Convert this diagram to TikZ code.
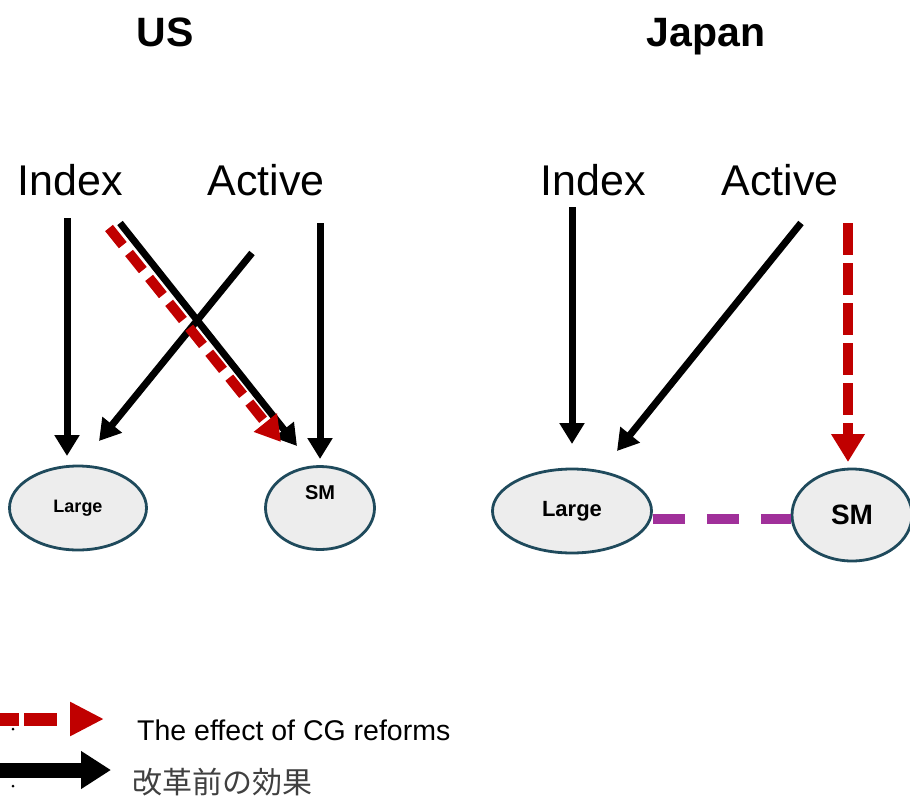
\documentclass[tikz,border=0pt]{standalone}
\usepackage{fontspec}
\setmainfont{Liberation Sans}
\newfontfamily\cjk{Noto Sans CJK JP}
\usetikzlibrary{arrows.meta,shapes.geometric}
\definecolor{edgeteal}{HTML}{1F4A5C}
\definecolor{effred}{HTML}{C00000}
\definecolor{linkpurple}{HTML}{A0309A}
\definecolor{fillgrey}{HTML}{EDEDED}
\tikzset{
  title/.style={font=\fontsize{41}{41}\selectfont\bfseries, inner sep=0pt, anchor=base},
  actor/.style={font=\fontsize{43}{43}\selectfont, inner sep=0pt},
  firm/.style={ellipse, draw=edgeteal, line width=2.8pt, fill=fillgrey, inner sep=0pt, font=\bfseries},
  blackarr/.style={line width=7pt, -{Triangle[width=24pt,length=21pt]}},
  redarr/.style={draw=effred, line width=10pt, dash pattern=on 24pt off 9pt, -{Triangle[width=32pt,length=28pt]}, effred},
  purplelink/.style={draw=linkpurple, line width=10pt, dash pattern=on 32pt off 22pt},
}
\begin{document}
\begin{tikzpicture}[x=1pt,y=-1pt]
\useasboundingbox (0,0) rectangle (910,798);
% titles
\node[title] (usT) at (165,46) {US};
\node[title] (jpT) at (706,46) {Japan};
% US actors
\node[actor] (usIdx) at (70,180) {Index};
\node[actor] (usAct) at (266,180) {Active};
% Japan actors
\node[actor] (jpIdx) at (593,180) {Index};
\node[actor] (jpAct) at (780,180) {Active};
% US firms
\node[firm, minimum width=137pt, minimum height=84pt, font=\fontsize{18}{18}\selectfont\bfseries] (usL) at (78,508) {Large};
\node[firm, minimum width=109pt, minimum height=83pt] (usS) at (320,508) {};
\node[font=\fontsize{20}{20}\selectfont\bfseries, inner sep=0pt] (usSlab) at (320,493) {SM};
% Japan firms
\node[firm, minimum width=159pt, minimum height=84pt, font=\fontsize{22}{22}\selectfont\bfseries] (jpL) at (572,511) {Large};
\node[firm, minimum width=120pt, minimum height=92pt, font=\fontsize{28}{28}\selectfont\bfseries] (jpS) at (852,515) {SM};
% connector end points
\coordinate (a1s) at (67,218);  \coordinate (a1e) at (67,456);
\coordinate (a2s) at (120,223); \coordinate (a2e) at (297,446);
\coordinate (a3s) at (252,253); \coordinate (a3e) at (99,441);
\coordinate (a4s) at (320,223); \coordinate (a4e) at (320,459);
\coordinate (r1s) at (109,228); \coordinate (r1e) at (281,442);
\coordinate (b1s) at (572,207); \coordinate (b1e) at (572,444);
\coordinate (b2s) at (801,223); \coordinate (b2e) at (617,451);
\coordinate (r2s) at (848,223); \coordinate (r2e) at (848,462);
% US arrows
\draw[blackarr] (a1s) -- (a1e);
\draw[blackarr] (a2s) -- (a2e);
\draw[blackarr] (a3s) -- (a3e);
\draw[blackarr] (a4s) -- (a4e);
\draw[redarr, -{Triangle[width=28pt,length=25pt]}, dash pattern=on 22pt off 10pt] (r1s) -- (r1e);
% Japan arrows
\draw[blackarr] (b1s) -- (b1e);
\draw[blackarr] (b2s) -- (b2e);
\draw[redarr, dash pattern=on 32pt off 8pt] (r2s) -- (r2e);
% Japan link
\draw[purplelink] (jpL.east) ++(0,8) coordinate (pl1) -- (jpS.west |- pl1);
% legend
\coordinate (lg1s) at (0,719);  \coordinate (lg1e) at (104,719);
\coordinate (lg2s) at (0,770);  \coordinate (lg2e) at (111,770);
\draw[draw=effred, line width=13pt, dash pattern=on 19pt off 5pt on 33pt off 15pt, -{Triangle[width=32pt,length=34pt]}, effred] (lg1s) -- (lg1e);
\draw[line width=15pt, -{Triangle[width=36pt,length=30pt]}] (lg2s) -- (lg2e);
\node[circle, fill=black, inner sep=0pt, minimum size=3pt] (dot1) at (13,729) {};
\node[circle, fill=black, inner sep=0pt, minimum size=3pt] (dot2) at (13,786) {};
\node[anchor=west, inner sep=0pt, font=\fontsize{28.5}{28.5}\selectfont] (lgT1) at (137,730) {The effect of CG reforms};
\node[anchor=west, inner sep=0pt, text=black!75, font=\cjk\fontsize{30}{30}\selectfont] (lgT2) at (132,782) {改革前の効果};
\end{tikzpicture}
\end{document}
